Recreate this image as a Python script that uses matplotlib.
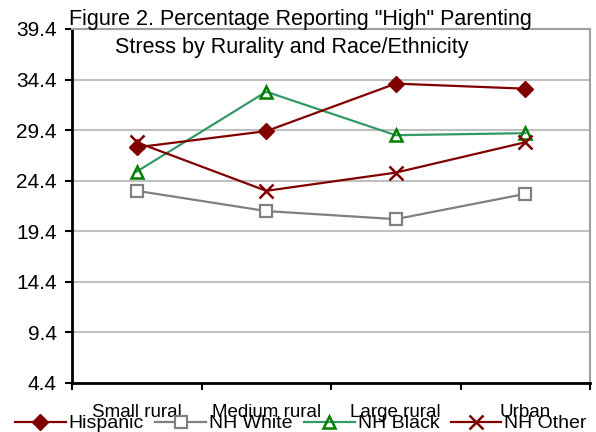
import matplotlib
matplotlib.use("Agg")
import matplotlib.pyplot as plt
import numpy as np

categories = ["Small rural", "Medium rural", "Large rural", "Urban"]
hispanic = [27.7, 29.3, 34.0, 33.5]
nh_white = [23.4, 21.4, 20.6, 23.1]
nh_black = [25.3, 33.2, 28.9, 29.1]
nh_other = [28.2, 23.4, 25.2, 28.2]
y_ticks = [4.4, 9.4, 14.4, 19.4, 24.4, 29.4, 34.4, 39.4]


def main():
    plt.rcParams['font.family'] = ['Liberation Sans', 'DejaVu Sans']
    fig = plt.figure(figsize=(5.96, 4.32), dpi=100)
    ax = fig.add_axes([72 / 596, 1 - 383 / 432, (590 - 72) / 596, (383 - 29) / 432])

    x = np.arange(len(categories))
    dark_red = "#800000"
    ax.plot(x, hispanic, color=dark_red, lw=1.6, marker="D", ms=8,
            mfc=dark_red, mec=dark_red, label="Hispanic", zorder=4)
    ax.plot(x, nh_white, color="#808080", lw=1.6, marker="s", ms=8,
            mfc="white", mec="#808080", mew=1.6, label="NH White", zorder=3)
    ax.plot(x, nh_black, color="#339966", lw=1.6, marker="^", ms=9,
            mfc="none", mec="#008000", mew=1.8, label="NH Black", zorder=3)
    ax.plot(x, nh_other, color=dark_red, lw=1.6, marker="x", ms=10,
            mec=dark_red, mew=1.8, label="NH Other", zorder=4)

    ax.set_xlim(-0.5, len(categories) - 0.5)
    ax.set_ylim(4.4, 39.4)
    ax.set_yticks(y_ticks)
    ax.set_yticklabels([f"{v:.1f}" for v in y_ticks], fontsize=15)
    ax.set_xticks(x)
    ax.set_xticklabels(categories, fontsize=13.5)
    ax.set_xticks(np.arange(-0.5, len(categories)), minor=True)
    ax.tick_params(axis="x", which="major", length=0, pad=15)
    ax.tick_params(axis="x", which="minor", length=5, width=1.5, direction="out")
    ax.tick_params(axis="y", length=5, width=1.5, direction="out", pad=6)

    ax.yaxis.grid(True, color="#c0c0c0", lw=1.5)
    ax.set_axisbelow(True)
    for side in ["left", "bottom"]:
        ax.spines[side].set_color("black")
        ax.spines[side].set_linewidth(2)
    for side in ["top", "right"]:
        ax.spines[side].set_color("#a0a0a0")
        ax.spines[side].set_linewidth(1.5)

    # two title lines, the second sits a bit left of centre in the original
    fig.text(300 / 596, 1 - 20 / 432, 'Figure 2. Percentage Reporting "High" Parenting',
             ha="center", va="center", fontsize=15.5)
    fig.text(292 / 596, 1 - 47 / 432, 'Stress by Rurality and Race/Ethnicity',
             ha="center", va="center", fontsize=15.5)

    fig.legend(loc="lower center", bbox_to_anchor=(0.505, -0.028), ncol=4,
               frameon=False, fontsize=14, handlelength=2.6, handletextpad=0.15,
               columnspacing=0.6, borderaxespad=0.2)

    fig.savefig("out.png", dpi=100)


if __name__ == "__main__":
    main()
